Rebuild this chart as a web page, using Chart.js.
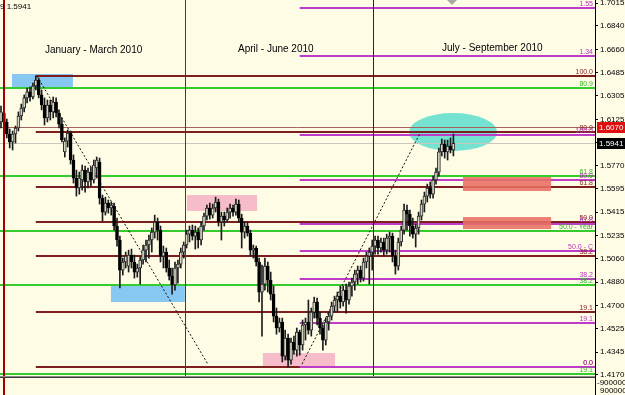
<!DOCTYPE html>
<html>
<head>
<meta charset="utf-8">
<script src="https://cdn.jsdelivr.net/npm/chart.js@4.4.1/dist/chart.umd.min.js"></script>
<style>
html,body{margin:0;padding:0;background:#FFFCE6;overflow:hidden}
canvas{display:block}
</style>
</head>
<body>
<canvas id="c" width="625" height="395"></canvas>
<script>
// ---------- DATA (GBPUSD daily, Jan - Aug 2010) ----------
const opens = [1.6105,1.6174,1.6105,1.6013,1.5952,1.6013,1.6059,1.6151,1.6212,1.6289,1.6335,1.6296,1.6380,1.6426,1.6312,1.6235,1.6136,1.6235,1.6182,1.6258,
1.6174,1.6089,1.5876,1.5959,1.6021,1.5814,1.5676,1.5600,1.5661,1.5737,1.5646,1.5722,1.5661,1.5753,1.5799,1.5523,1.5416,1.5485,1.5447,1.5462,
1.5309,1.5202,1.4972,1.5034,1.5003,1.5087,1.5034,1.4957,1.4988,1.5049,1.5125,1.5164,1.5202,1.5263,1.5340,1.5278,1.5079,1.5110,1.4988,1.4926,
1.4858,1.4988,1.5018,1.5110,1.5164,1.5247,1.5278,1.5232,1.5263,1.5202,1.5309,1.5385,1.5447,1.5393,1.5447,1.5493,1.5340,1.5385,1.5355,1.5416,
1.5447,1.5416,1.5477,1.5370,1.5263,1.5309,1.5255,1.5125,1.5141,1.5034,1.4804,1.4865,1.5003,1.4896,1.4788,1.4620,1.4529,1.4575,1.4314,1.4452,
1.4284,1.4422,1.4360,1.4498,1.4399,1.4552,1.4575,1.4513,1.4651,1.4728,1.4605,1.4529,1.4437,1.4575,1.4620,1.4697,1.4743,1.4773,1.4728,1.4819,
1.4743,1.4850,1.4881,1.4941,1.4972,1.4911,1.5034,1.5079,1.5110,1.5156,1.5202,1.5141,1.5187,1.5125,1.5217,1.5232,1.5079,1.5003,1.5187,1.5278,
1.5431,1.5400,1.5309,1.5247,1.5294,1.5385,1.5477,1.5538,1.5600,1.5553,1.5661,1.5722,1.5876,1.5936,1.5876,1.5921,1.5891];
const highs = [1.6227,1.6197,1.6128,1.6051,1.6036,1.6074,1.6182,1.6242,1.6312,1.6365,1.6372,1.6403,1.6457,1.6441,1.6350,1.6289,1.6273,1.6273,1.6296,1.6289,
1.6197,1.6136,1.5983,1.6044,1.6036,1.5853,1.5737,1.5722,1.5776,1.5768,1.5753,1.5760,1.5814,1.5837,1.5829,1.5546,1.5530,1.5508,1.5493,1.5485,
1.5370,1.5232,1.5064,1.5110,1.5125,1.5133,1.5087,1.5018,1.5071,1.5164,1.5202,1.5240,1.5294,1.5393,1.5370,1.5309,1.5156,1.5141,1.5049,1.4988,
1.5034,1.5049,1.5141,1.5187,1.5278,1.5309,1.5317,1.5309,1.5294,1.5340,1.5408,1.5470,1.5485,1.5477,1.5530,1.5515,1.5416,1.5416,1.5447,1.5477,
1.5470,1.5515,1.5508,1.5400,1.5340,1.5340,1.5278,1.5164,1.5156,1.5064,1.5011,1.5064,1.5034,1.4957,1.4850,1.4682,1.4605,1.4605,1.4513,1.4482,
1.4452,1.4467,1.4529,1.4513,1.4590,1.4605,1.4743,1.4682,1.4765,1.4758,1.4651,1.4552,1.4605,1.4651,1.4728,1.4773,1.4804,1.4850,1.4850,1.4865,
1.4881,1.4911,1.4972,1.5003,1.5003,1.5064,1.5110,1.5141,1.5202,1.5232,1.5232,1.5217,1.5217,1.5247,1.5263,1.5255,1.5125,1.5217,1.5309,1.5477,
1.5470,1.5431,1.5370,1.5324,1.5416,1.5508,1.5569,1.5630,1.5646,1.5691,1.5753,1.5906,1.5975,1.5967,1.5967,1.5983,1.6013];
const lows = [1.6059,1.6074,1.5983,1.5906,1.5891,1.5944,1.6036,1.6120,1.6182,1.6250,1.6265,1.6281,1.6350,1.6289,1.6197,1.6082,1.6105,1.6120,1.6136,1.6143,
1.6059,1.5952,1.5837,1.5913,1.5783,1.5638,1.5538,1.5553,1.5584,1.5569,1.5600,1.5615,1.5638,1.5676,1.5477,1.5347,1.5393,1.5408,1.5393,1.5278,
1.5156,1.4835,1.4934,1.4988,1.4957,1.4988,1.4911,1.4918,1.4865,1.5018,1.5034,1.5064,1.5110,1.5217,1.5202,1.5034,1.4988,1.4957,1.4896,1.4788,
1.4819,1.4873,1.4988,1.5064,1.5141,1.5187,1.5202,1.5133,1.5141,1.5164,1.5278,1.5355,1.5362,1.5370,1.5416,1.5309,1.5202,1.5309,1.5340,1.5370,
1.5385,1.5393,1.5340,1.5141,1.5217,1.5232,1.5079,1.5064,1.5003,1.4728,1.4467,1.4819,1.4804,1.4743,1.4575,1.4482,1.4498,1.4269,1.4284,1.4229,
1.4253,1.4329,1.4314,1.4322,1.4360,1.4437,1.4482,1.4467,1.4605,1.4552,1.4482,1.4360,1.4399,1.4513,1.4590,1.4651,1.4651,1.4682,1.4697,1.4643,
1.4712,1.4773,1.4819,1.4865,1.4881,1.4888,1.4988,1.4865,1.4972,1.5094,1.5094,1.5110,1.5079,1.5094,1.5110,1.5034,1.4941,1.4972,1.5156,1.5247,
1.5278,1.5232,1.5217,1.5148,1.5247,1.5355,1.5416,1.5493,1.5523,1.5523,1.5630,1.5691,1.5845,1.5829,1.5814,1.5868,1.5845];
const closes = [1.6182,1.6105,1.6013,1.5952,1.6013,1.6059,1.6151,1.6212,1.6289,1.6335,1.6296,1.6380,1.6426,1.6312,1.6235,1.6136,1.6235,1.6182,1.6258,1.6174,
1.6089,1.5967,1.5959,1.6021,1.5814,1.5676,1.5600,1.5676,1.5737,1.5646,1.5722,1.5661,1.5776,1.5814,1.5523,1.5416,1.5485,1.5447,1.5470,1.5309,
1.5202,1.4972,1.5034,1.5079,1.5087,1.5034,1.4957,1.4988,1.5049,1.5125,1.5164,1.5202,1.5263,1.5340,1.5278,1.5079,1.5110,1.4988,1.4926,1.4858,
1.4988,1.5018,1.5110,1.5164,1.5247,1.5278,1.5232,1.5263,1.5202,1.5309,1.5385,1.5447,1.5393,1.5447,1.5493,1.5340,1.5385,1.5355,1.5416,1.5447,
1.5416,1.5477,1.5370,1.5263,1.5309,1.5255,1.5125,1.5141,1.5034,1.4804,1.4865,1.5003,1.4896,1.4788,1.4620,1.4529,1.4575,1.4314,1.4452,1.4284,
1.4422,1.4360,1.4498,1.4399,1.4552,1.4575,1.4513,1.4651,1.4728,1.4605,1.4529,1.4437,1.4575,1.4620,1.4697,1.4743,1.4773,1.4728,1.4819,1.4743,
1.4850,1.4881,1.4941,1.4972,1.4911,1.5034,1.5079,1.5110,1.5156,1.5202,1.5141,1.5187,1.5125,1.5217,1.5232,1.5079,1.5003,1.5187,1.5278,1.5431,
1.5400,1.5309,1.5247,1.5294,1.5385,1.5477,1.5538,1.5600,1.5553,1.5661,1.5722,1.5876,1.5936,1.5876,1.5921,1.5891,1.5941];

const priceTicks = [1.7015,1.6840,1.6660,1.6485,1.6305,1.6125,1.5950,1.5770,1.5595,1.5415,1.5235,1.5060,1.4880,1.4700,1.4525,1.4345,1.4170];

// Fibonacci retracements
const yearFibLevels = [1.6367,1.5691,1.5273,1.4855,1.4179];
const yearFibLabels = ['80.9','61.8','50.0 - Year','38.2','19.1'];
const q1FibLevels = [1.6457,1.6031,1.5606,1.5343,1.5080,1.4655,1.4229];
const q1FibLabels = ['100.0','80.9','61.8','50.0','38.2','19.1','0.0'];
const q1FibStart = 12;
const q2FibLevels = [1.6979,1.6606,1.6003,1.5664,1.5325,1.5116,1.4907,1.4568,1.4229];
const q2FibLabels = ['1.55','1.34','100.0','80.9','61.8','50.0 - C','38.2','19.1','0.0'];
const q2FibStart = 103;

const userLevel = 1.6070;
const lastPrice = 1.5941;
const yearStartBar = 1.03;
const quarterBars = [63.45, 128.3];
const quarterTitles = ['January - March 2010','April - June 2010','July - September 2010'];

// zones: [bar from, bar to, price top, price bottom]
const blueZones = [[3.8,24.8,1.6472,1.6365],[37.9,63.4,1.4858,1.4728]];
const pinkZones = [[64.1,88.3,1.5546,1.5424],[90.3,115.2,1.4338,1.4238]];
const redZones = [[159.3,189.7,1.5684,1.5577],[159.3,189.7,1.5378,1.5286]];
const targetEllipse = [155.9,1.6028,15.2,0.0145]; // center bar, center price, half-width bars, half-height price
// dotted trend lines: [bar1, price1, bar2, price2]
const trendLines = [[12.4,1.6457,71.4,1.4250],[103.8,1.4253,144.5,1.6020]];

// ---------- CHART ----------
const BG = '#FFFCE6';
const FONT = '"Liberation Sans", Arial, sans-serif';
const idx = opens.map((_, i) => i);
const wickData = idx.map(i => ({x: i, y: [lows[i], highs[i]]}));
const bodyData = idx.map(i => ({x: i, y: [opens[i], closes[i]]}));
const bodyFill = idx.map(i => closes[i] >= opens[i] ? '#D4D8C2' : '#000000');
const bodyBorder = idx.map(i => closes[i] >= opens[i] ? '#2a2a2a' : '#000000');

const overlay = {
  id: 'overlay',
  beforeDraw(chart) {
    const {ctx, width, height} = chart;
    ctx.save();
    ctx.fillStyle = BG;
    ctx.fillRect(0, 0, width, height);
    ctx.restore();
  },
  beforeDatasetsDraw(chart) {
    const {ctx, chartArea: a, scales: {x, y}} = chart;
    const X = v => x.getPixelForValue(v), Y = v => y.getPixelForValue(v);
    ctx.save();
    ctx.beginPath();
    ctx.rect(a.left, a.top, a.right - a.left, a.bottom - a.top);
    ctx.clip();

    // zones
    const fillZone = (z, c) => { ctx.fillStyle = c; ctx.fillRect(X(z[0]), Y(z[2]), X(z[1]) - X(z[0]), Y(z[3]) - Y(z[2])); };
    blueZones.forEach(z => fillZone(z, '#86C8F2'));
    pinkZones.forEach(z => fillZone(z, '#F7BCC9'));
    // ellipse
    ctx.fillStyle = '#76E2D2';
    ctx.beginPath();
    ctx.ellipse(X(targetEllipse[0]), Y(targetEllipse[1]),
      X(targetEllipse[0] + targetEllipse[2]) - X(targetEllipse[0]),
      Y(targetEllipse[1] - targetEllipse[3]) - Y(targetEllipse[1]), 0, 0, Math.PI * 2);
    ctx.fill();

    const hline = (x0, p, col, w) => {
      const py = Math.round(Y(p)) + (w % 2 ? 0.5 : 0);
      ctx.strokeStyle = col; ctx.lineWidth = w;
      ctx.beginPath(); ctx.moveTo(x0, py); ctx.lineTo(a.right, py); ctx.stroke();
    };
    // last price line & user line
    hline(a.left, lastPrice, '#C8C8C0', 1);
    hline(a.left, userLevel, '#A8625C', 1);
    // fibs
    yearFibLevels.forEach(p => hline(a.left, p, '#36CC2E', 2));
    q1FibLevels.forEach(p => hline(X(q1FibStart), p, '#7E1E1E', 2));
    q2FibLevels.forEach(p => hline(X(q2FibStart), p, '#BE3CC8', 2));

    redZones.forEach(z => fillZone(z, 'rgba(232,112,100,0.88)'));

    // period separators
    ctx.lineWidth = 1;
    ctx.strokeStyle = '#2E4A30';
    let px = Math.round(X(quarterBars[0])) + 0.5;
    ctx.beginPath(); ctx.moveTo(px, 0); ctx.lineTo(px, chart.height); ctx.stroke();
    ctx.strokeStyle = '#22245A';
    px = Math.round(X(quarterBars[1])) + 0.5;
    ctx.beginPath(); ctx.moveTo(px, 0); ctx.lineTo(px, chart.height); ctx.stroke();

    // dotted trend lines
    ctx.strokeStyle = '#111';
    ctx.lineWidth = 1;
    ctx.setLineDash([2, 2]);
    trendLines.forEach(t => {
      ctx.beginPath(); ctx.moveTo(X(t[0]), Y(t[1])); ctx.lineTo(X(t[2]), Y(t[3])); ctx.stroke();
    });
    ctx.setLineDash([]);

    // fib labels
    ctx.font = '7px ' + FONT;
    ctx.textAlign = 'right';
    ctx.textBaseline = 'alphabetic';
    const lab = (levels, labels, col) => {
      ctx.fillStyle = col;
      levels.forEach((p, k) => ctx.fillText(labels[k], 593, Math.round(Y(p)) - 2));
    };
    lab(q1FibLevels, q1FibLabels, '#7E1E1E');
    lab(yearFibLevels, yearFibLabels, '#2EB82A');
    lab(q2FibLevels, q2FibLabels, '#B634BE');

    // quarter titles
    ctx.font = '10px ' + FONT;
    ctx.textAlign = 'left';
    ctx.fillStyle = '#000';
    const tx = [45, 238, 442], ty = [53, 52, 51];
    quarterTitles.forEach((t, k) => ctx.fillText(t, tx[k], ty[k]));
    ctx.restore();
  },
  afterDatasetsDraw(chart) {
    const {ctx, scales: {x}} = chart;
    ctx.save();
    ctx.fillStyle = '#A00000';
    ctx.fillRect(Math.round(x.getPixelForValue(yearStartBar)) - 1, 0, 2, chart.height);
    ctx.restore();
  },
  afterDraw(chart) {
    const {ctx, chartArea: a, scales: {y}} = chart;
    ctx.save();
    // indicator sub-window separator
    ctx.fillStyle = '#8C8C8C';
    ctx.fillRect(0, a.bottom, a.right, 1);
    ctx.fillStyle = '#3A3A3A';
    ctx.fillRect(0, a.bottom + 1, a.right, 1);
    ctx.fillStyle = '#000';
    ctx.fillRect(a.right, 0, 1, chart.height);
    ctx.font = '8px ' + FONT;
    ctx.textBaseline = 'middle';
    ctx.textAlign = 'left';
    ctx.fillText('-9000000', 597, 383);
    ctx.fillText('9000000', 600, 391);
    // price boxes
    const box = (p, bg) => {
      const py = Math.round(y.getPixelForValue(p));
      ctx.fillStyle = bg;
      ctx.fillRect(597, py - 5, 28, 11);
      ctx.fillStyle = '#fff';
      ctx.fillText(p.toFixed(4), 599, py + 0.5);
    };
    box(userLevel, '#E01010');
    box(lastPrice, '#000');
    // header text
    ctx.fillStyle = '#000';
    ctx.textBaseline = 'alphabetic';
    ctx.fillText('9 1.5941', 0, 9);
    // chart shift marker
    ctx.fillStyle = '#A8A8A8';
    ctx.beginPath(); ctx.moveTo(447, 0); ctx.lineTo(457, 0); ctx.lineTo(452, 5); ctx.closePath(); ctx.fill();
    ctx.restore();
  }
};

new Chart(document.getElementById('c'), {
  type: 'bar',
  data: {
    datasets: [
      {data: bodyData, backgroundColor: bodyFill, borderColor: bodyBorder, borderWidth: 1,
       borderSkipped: false, barThickness: 3, minBarLength: 1, grouped: false, order: 0},
      {data: wickData, backgroundColor: '#1c1c1c', borderWidth: 0, barThickness: 1, grouped: false, order: 1}
    ]
  },
  options: {
    responsive: false,
    animation: false,
    devicePixelRatio: 1,
    layout: {padding: {left: 0, right: 0, top: 0, bottom: 19}},
    plugins: {legend: {display: false}, tooltip: {enabled: false}},
    scales: {
      x: {type: 'linear', min: -0.345, max: 204.83, offset: false, display: false},
      y: {
        type: 'linear', position: 'right', min: 1.4162, max: 1.7038,
        afterBuildTicks: s => { s.ticks = priceTicks.map(v => ({value: v})); },
        afterFit: s => { s.width = 30; s.paddingTop = 0; s.paddingBottom = 0; },
        grid: {drawOnChartArea: false, drawTicks: true, tickLength: 3, color: '#000'},
        border: {display: true, color: '#000', width: 1},
        ticks: {autoSkip: false, padding: 2, color: '#000', font: {family: FONT, size: 8},
                callback: v => Number(v).toFixed(4)}
      }
    }
  },
  plugins: [overlay]
});
</script>
</body>
</html>
